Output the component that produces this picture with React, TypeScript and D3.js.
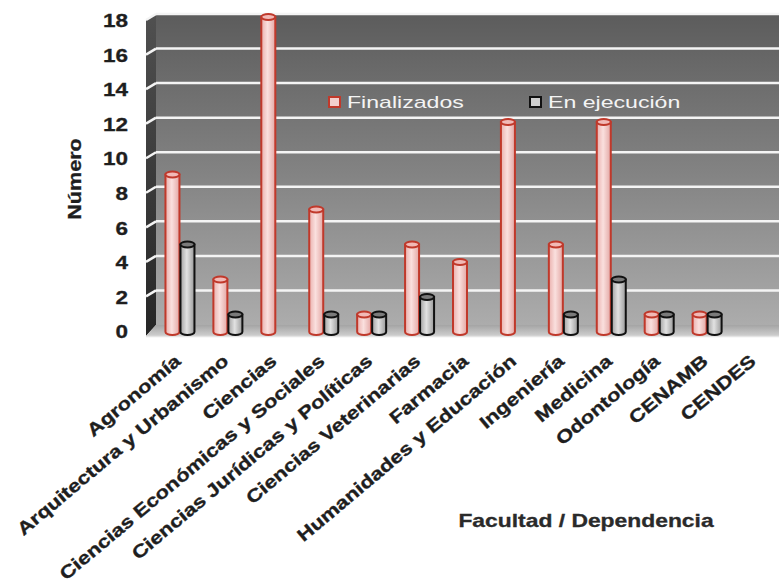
import React from 'react';
import * as d3 from 'd3';

const categories = [
  'Agronomía',
  'Arquitectura y Urbanismo',
  'Ciencias',
  'Ciencias Económicas y Sociales',
  'Ciencias Jurídicas y Políticas',
  'Ciencias Veterinarias',
  'Farmacia',
  'Humanidades y Educación',
  'Ingeniería',
  'Medicina',
  'Odontología',
  'CENAMB',
  'CENDES',
];
const finalizados = [9, 3, 18, 7, 1, 5, 4, 12, 5, 12, 1, 1, 0];
const enEjecucion = [5, 1, 0, 1, 1, 2, 0, 0, 1, 3, 1, 1, 0];
const seriesNames = ['Finalizados', 'En ejecución'];
const yTicks = [0, 2, 4, 6, 8, 10, 12, 14, 16, 18];
const yTitle = 'Número';
const xTitle = 'Facultad / Dependencia';

const W = 779;
const H = 579;
const sideFront = 146;
const plotLeft = 156;
const plotRight = 779;

const x = d3.scaleBand<string>().domain(categories).range([plotLeft, plotRight]).padding(0);
const xs = d3.scaleBand<string>().domain(seriesNames).range([-15, 15]).padding(0);
const yFront = d3.scaleLinear().domain([0, 18]).range([332, 17]);
const yBack = d3.scaleLinear().domain([0, 18]).range([325, 14]);
const yLabel = d3.scaleLinear().domain([0, 18]).range([332, 21]);
const sideDy = 6;

const seriesStyle = [
  { grad: 'gPink', top: '#f1b9b6', stroke: '#c0392b' },
  { grad: 'gGray', top: '#7a7a7a', stroke: '#111111' },
];

function Cylinder({ x0, w, v, s }: { x0: number; w: number; v: number; s: number }) {
  const ry = 3;
  const yt = yFront(v);
  const yb = yFront(0);
  const st = seriesStyle[s];
  const d = `M${x0},${yt} L${x0},${yb} A${w / 2},${ry} 0 0 0 ${x0 + w},${yb} L${x0 + w},${yt} Z`;
  return (
    <g>
      <path d={d} fill={`url(#${st.grad})`} stroke={st.stroke} strokeWidth={2} />
      <ellipse cx={x0 + w / 2} cy={yt} rx={w / 2} ry={ry} fill={st.top} stroke={st.stroke} strokeWidth={2} />
    </g>
  );
}

export default function App() {
  const series = [finalizados, enEjecucion];
  const barW = 14;
  return (
    <svg width={W} height={H} style={{ position: 'absolute', left: 0, top: 0, background: '#fff' }}
      fontFamily="'Liberation Sans', Arial, sans-serif">
      <defs>
        <linearGradient id="gBack" x1="0" y1="0" x2="0" y2="1">
          <stop offset="0" stopColor="#5c5c5c" />
          <stop offset="0.5" stopColor="#828282" />
          <stop offset="1" stopColor="#acacac" />
        </linearGradient>
        <linearGradient id="gSide" x1="0" y1="0" x2="0" y2="1">
          <stop offset="0" stopColor="#505050" />
          <stop offset="1" stopColor="#262626" />
        </linearGradient>
        <linearGradient id="gFloor" x1="0" y1="0" x2="0" y2="1">
          <stop offset="0" stopColor="#a4a4a4" />
          <stop offset="1" stopColor="#cfcfcf" />
        </linearGradient>
        <linearGradient id="gPink" x1="0" y1="0" x2="1" y2="0">
          <stop offset="0" stopColor="#eab0ad" />
          <stop offset="0.45" stopColor="#fae0de" />
          <stop offset="1" stopColor="#e3a7a4" />
        </linearGradient>
        <linearGradient id="gGray" x1="0" y1="0" x2="1" y2="0">
          <stop offset="0" stopColor="#a2a2a2" />
          <stop offset="0.45" stopColor="#e2e2e2" />
          <stop offset="1" stopColor="#9a9a9a" />
        </linearGradient>
      </defs>

      {/* back wall */}
      <rect x={plotLeft} y={yBack(18)} width={plotRight - plotLeft} height={yBack(0) - yBack(18)} fill="url(#gBack)" />
      {/* side wall */}
      <polygon
        points={`${sideFront},${yBack(18) + sideDy} ${plotLeft},${yBack(18)} ${plotLeft},${yBack(0)} ${sideFront},${yBack(0) + sideDy + 5}`}
        fill="url(#gSide)"
      />
      {/* floor */}
      <polygon
        points={`${sideFront},${yBack(0) + sideDy + 5} ${plotLeft},${yBack(0)} ${plotRight},${yBack(0)} ${plotRight},${yBack(0) + 11}`}
        fill="url(#gFloor)"
      />
      <line x1={sideFront} x2={plotRight} y1={yBack(0) + 11.5} y2={yBack(0) + 11.5} stroke="#e4e4e4" strokeWidth={1.5} />

      {/* gridlines */}
      {yTicks.filter((t) => t > 0).map((t) => (
        <g key={t}>
          <line x1={plotLeft} x2={plotRight} y1={yBack(t)} y2={yBack(t)} stroke="#f4f4f4" strokeWidth={2.5} />
          <line x1={sideFront} x2={plotLeft} y1={yBack(t) + sideDy} y2={yBack(t)} stroke="#f4f4f4" strokeWidth={2.5} />
        </g>
      ))}

      {/* bars */}
      {categories.map((c, i) => {
        const cx = (x(c) as number) + x.bandwidth() / 2;
        return (
          <g key={c}>
            {series.map((vals, s) => {
              const v = vals[i];
              if (!v) return null;
              const sx = cx + (xs(seriesNames[s]) as number) + xs.bandwidth() / 2;
              return <Cylinder key={s} x0={sx - barW / 2} w={barW} v={v} s={s} />;
            })}
          </g>
        );
      })}

      {/* legend */}
      {seriesNames.map((n, i) => {
        const lx = [329, 530][i];
        return (
          <g key={n}>
            <rect x={lx} y={97} width={11} height={10} fill={i === 0 ? '#f2cfcd' : '#cfcfcf'}
              stroke={seriesStyle[i].stroke} strokeWidth={2} />
            <text transform={`translate(${lx + 18},${108}) scale(1.36,1)`} fontSize={17} fill="#f4f4f4">{n}</text>
          </g>
        );
      })}

      {/* y tick labels */}
      {yTicks.map((t) => (
        <text key={t} transform={`translate(128,${yLabel(t)}) scale(1.25,1)`} textAnchor="end" dominantBaseline="central"
          fontSize={18} fontWeight="bold" fill="#1e1e1e" stroke="#1e1e1e" strokeWidth={0.3}>{t}</text>
      ))}

      {/* y title */}
      <text transform={`translate(81,179) rotate(-90) scale(1.2,1)`} textAnchor="middle" fontSize={18}
        fontWeight="bold" fill="#1e1e1e" stroke="#1e1e1e" strokeWidth={0.3}>{yTitle}</text>

      {/* x labels */}
      {categories.map((c) => {
        const cx = (x(c) as number) + x.bandwidth() / 2;
        return (
          <text key={c} transform={`translate(${cx + 2},363) rotate(-40) scale(1.22,1)`} textAnchor="end"
            fontSize={18} fontWeight="bold" fill="#1e1e1e" stroke="#1e1e1e" strokeWidth={0.35}>{c}</text>
        );
      })}

      {/* x title */}
      <text transform={`translate(586,527) scale(1.27,1)`} textAnchor="middle" fontSize={18} fontWeight="bold"
        fill="#2a2a2a" stroke="#2a2a2a" strokeWidth={0.3}>{xTitle}</text>
    </svg>
  );
}
